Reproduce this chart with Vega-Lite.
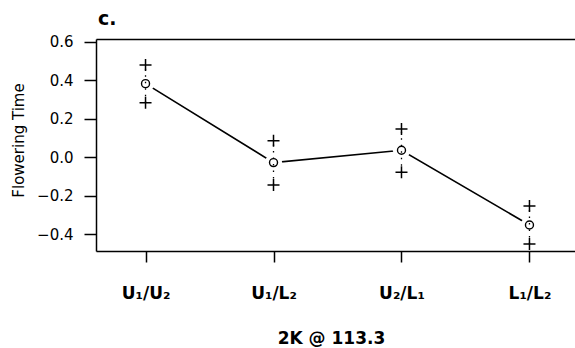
{
  "$schema": "https://vega.github.io/schema/vega-lite/v6.json",
  "autosize": "none",
  "padding": {"left": 96, "top": 39, "right": 0, "bottom": 97},
  "width": 483,
  "height": 212,
  "title": {"text": "c.", "anchor": "start", "frame": "group", "font": "DejaVu Sans", "fontSize": 19, "fontWeight": "bold", "color": "black", "baseline": "alphabetic", "offset": -9, "dx": 2},
  "config": {
    "view": {"stroke": null},
    "font": "DejaVu Sans",
    "axis": {"domain": true, "domainColor": "black", "domainWidth": 1.5, "grid": false, "tickColor": "black", "tickWidth": 1.5, "labelColor": "black", "titleColor": "black", "labelFont": "DejaVu Sans", "titleFont": "DejaVu Sans"}
  },
  "resolve": {"axis": {"x": "independent"}},
  "data": {"values": [
    {"g": "U₁/U₂", "m": 0.383, "lo": 0.284, "hi": 0.48},
    {"g": "U₁/L₂", "m": -0.028, "lo": -0.145, "hi": 0.086},
    {"g": "U₂/L₁", "m": 0.036, "lo": -0.079, "hi": 0.147},
    {"g": "L₁/L₂", "m": -0.353, "lo": -0.452, "hi": -0.254}
  ]},
  "layer": [
    {"mark": {"type": "line", "color": "black", "strokeWidth": 1.6},
     "encoding": {
       "x": {"field": "g", "type": "nominal", "sort": null,
         "scale": {"type": "point", "padding": 0.387},
         "axis": {"orient": "bottom", "labelAngle": 0, "labelFontSize": 17, "labelFontWeight": "bold", "tickSize": 11, "labelPadding": 23,
           "title": "2K @ 113.3", "titleFontSize": 17, "titleFontWeight": "bold", "titleX": 235, "titleY": 92, "titleBaseline": "alphabetic", "titleAlign": "center"}},
       "y": {"field": "m", "type": "quantitative",
       "scale": {"domain": [-0.4885, 0.6156], "nice": false, "zero": false},
       "axis": {"values": [-0.4, -0.2, 0, 0.2, 0.4, 0.6], "format": ".1f", "labelFontSize": 15, "tickSize": 12, "labelPadding": 11,
         "title": "Flowering Time", "titleFontSize": 15, "titleFontWeight": "normal", "titleAngle": 270, "titleX": -78, "titleY": 101, "titleAlign": "center", "titleBaseline": "middle"}}}},
    {"mark": {"type": "point", "shape": "circle", "filled": true, "color": "white", "opacity": 1, "size": 300},
     "encoding": {
       "x": {"field": "g", "type": "nominal", "sort": null, "axis": {"orient": "top", "labels": false, "ticks": false, "title": null, "domain": true}},
       "y": {"field": "m", "type": "quantitative"}}},
    {"mark": {"type": "rule", "color": "black", "strokeWidth": 1.3, "strokeDash": [1.5, 5]},
     "encoding": {"x": {"field": "g", "type": "nominal", "sort": null, "axis": null}, "y": {"field": "lo", "type": "quantitative"}, "y2": {"field": "hi"}}},
    {"mark": {"type": "point", "shape": "M-1,0H1M0,-1V1", "filled": false, "stroke": "black", "strokeWidth": 1.5, "opacity": 1, "size": 144},
     "encoding": {"x": {"field": "g", "type": "nominal", "sort": null, "axis": null}, "y": {"field": "hi", "type": "quantitative"}}},
    {"mark": {"type": "point", "shape": "M-1,0H1M0,-1V1", "filled": false, "stroke": "black", "strokeWidth": 1.5, "opacity": 1, "size": 144},
     "encoding": {"x": {"field": "g", "type": "nominal", "sort": null, "axis": null}, "y": {"field": "lo", "type": "quantitative"}}},
    {"mark": {"type": "point", "shape": "circle", "filled": false, "stroke": "black", "strokeWidth": 1.4, "opacity": 1, "size": 64},
     "encoding": {"x": {"field": "g", "type": "nominal", "sort": null, "axis": null}, "y": {"field": "m", "type": "quantitative"}}}
  ]
}
